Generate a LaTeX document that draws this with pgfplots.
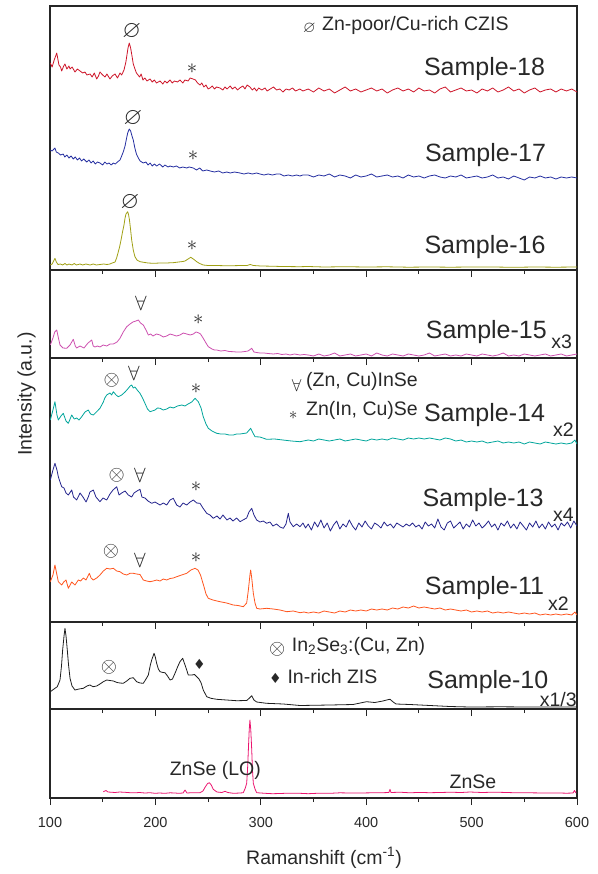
\documentclass[border=0pt]{standalone}
\usepackage{amssymb}
\usepackage{pgfplots}
\pgfplotsset{compat=1.18}
\usepackage{fontspec}
\setmainfont{Liberation Sans}
\newfontfamily\symf{DejaVu Sans}

\definecolor{cA}{RGB}{205,20,40}
\definecolor{cB}{RGB}{35,45,160}
\definecolor{cC}{RGB}{160,160,20}
\definecolor{cD}{RGB}{205,80,175}
\definecolor{cE}{RGB}{0,165,155}
\definecolor{cF}{RGB}{35,35,140}
\definecolor{cG}{RGB}{255,85,30}
\definecolor{cH}{RGB}{30,30,30}
\definecolor{cI}{RGB}{235,20,110}
\definecolor{txt}{RGB}{40,40,40}

\newcommand\lab{\fontsize{19.5}{22}\selectfont}
\newcommand\samp{\fontsize{25}{28}\selectfont}
\newcommand\sym{\fontsize{21}{23}\selectfont}
\newcommand\smsym{\fontsize{16}{18}\selectfont}
% peak symbols
\newcommand\cz{{\fontsize{24}{26}\selectfont$\varnothing$}}
\newcommand\zc{$\forall$}
\newcommand\ox{$\otimes$}
\newcommand\st{{\fontsize{22}{24}\selectfont$\ast$}}

\pgfplotsset{panel/.style={
    scale only axis, width=527pt, anchor=south west,
    xmin=100, xmax=600, ymin=0,
    axis line style={line width=1.1pt, draw=black!85},
    xtick={100,200,...,600}, minor xtick={150,250,...,550},
    xtick pos=bottom, xtick align=outside,
    ytick pos=left, ytick align=inside,
    major tick length=7pt, minor tick length=4pt,
    ytick=\empty, minor y tick num=0,
    xticklabels={},
    every tick/.style={line width=0.9pt, black!85},
    tick label style={font=\fontsize{14.5}{16}\selectfont, text=txt},
    every axis plot/.append style={line width=0.8pt, line join=round},
}}

\begin{document}
\begin{tikzpicture}
\useasboundingbox (0pt,0pt) rectangle (597pt,-874pt);

% panel 1: samples 18, 17, 16
\begin{axis}[panel, at={(50pt,-270pt)}, height=264pt, ymax=264,
    minor ytick={15,30,...,255}]
\addplot[cA] coordinates {(100.3,207) (102,203) (104,210) (106.4,217) (108.5,205) (110,203) (111.1,199) (113,204) (114.2,206) (116,201) (118,204) (119,201) (121,203) (123.7,198) (126,201) (128.5,199) (131,197) (133.2,198) (135,195) (138,196) (140,193) (142,197) (144.3,191) (146,194) (147.4,198) (150,195) (152.2,193) (154,196) (156.9,191) (159,194) (161.7,196) (164,192) (166.4,197) (168,195) (170.2,200) (172,208) (173,215) (174,222) (175.2,227) (176.5,222) (177.8,214) (179,206) (180.6,201) (182,197) (183.5,195) (185,193) (186.5,196) (188.2,190) (190,192) (192,189) (194.9,191) (197,188) (199,190) (201,187) (204.4,189) (207,186) (209,189) (211,187) (213.9,190) (216,187) (218,189) (221,188) (223.3,190) (226,187) (228,190) (231,189) (233,192) (235.7,191) (238,190) (240,187) (242.3,185) (244,187) (246,183) (248,185) (250,181) (251.8,182) (254,184) (256,181) (258,183) (261.3,182) (264,180) (266,183) (268,181) (271,184) (273,181) (275.5,183) (278,180) (280,182) (283,184) (285,181) (287,185) (289.7,183) (292,180) (294,182) (296,179) (298,182) (301,180) (304,182) (306,179) (309,181) (312,183) (315,180) (318,181) (321,178) (324,181) (327,180) (330,182) (333,179) (337,181) (340,179)
(345,181) (350,178) (355,182) (360,179) (365,181) (370,177) (375,180) (380,183) (385,179) (390,181) (395,178) (400,180) (405,182) (410,179) (415,181) (420,177) (425,180) (430,182) (435,179) (440,181) (445,178) (450,182) (455,179) (460,180) (465,177) (470,181) (475,183) (480,178) (485,180) (490,182) (495,179) (500,180) (505,177) (510,181) (515,179) (520,182) (525,178) (530,180) (535,183) (540,179) (545,181) (550,177) (555,180) (560,182) (565,178) (570,180) (575,181) (580,178) (585,181) (590,179) (595,181) (600,178)};
\addplot[cB] coordinates {(100.3,120) (102,119) (104.7,122) (106,118) (107.9,117) (110,115) (112.6,116) (114,113) (116,115) (118,112) (120,114) (122.1,111) (124,113) (126,110) (128,112) (130,109) (132,111) (134.8,108) (137,110) (139,107) (141,109) (143,106) (145,108) (147.4,107) (150,105) (152,108) (154,106) (156,107) (158,105) (160.1,107) (162,106) (164,108) (166.4,110) (168,114) (169.5,118) (171.2,124) (172.5,131) (173.7,137) (175.2,141) (176.5,139) (177.8,134) (179,130) (180.5,122) (182,116) (183.8,112) (185.5,109) (188.5,107) (191,108) (193,105) (195,107) (197,104) (199,106) (201.2,104) (204,106) (207,103) (209,105) (212,103) (214,104) (217,103) (220,104) (223,102) (226,103) (229.7,102) (232,103) (236,102) (239,100) (242,102) (245,99) (248.7,100) (252,99) (256,98) (260,99) (264,97) (267.6,98) (271,97) (275,98) (280.3,97) (284,96) (288,97) (292,96) (296,97) (299.2,96) (303,95) (307,96) (311,95) (315,96) (318.2,96) (322,94) (326,95) (330,94) (334,95) (337.2,94) (340,95)
(345,95) (350,93) (355,95) (360,94) (365,96) (370,93) (375,95) (380,94) (385,92) (390,95) (395,93) (400,94) (405,96) (410,93) (415,94) (420,95) (425,93) (430,94) (435,92) (440,95) (445,93) (450,94) (455,92) (460,94) (465,95) (470,93) (475,92) (480,94) (485,93) (490,95) (495,92) (500,93) (505,94) (510,92) (515,93) (520,95) (525,92) (530,93) (535,91) (540,94) (545,92) (550,90) (555,93) (560,92) (565,94) (570,92) (575,93) (580,91) (585,93) (590,92) (595,93) (600,92)};
\addplot[cC] coordinates {(100.3,5) (102,6) (104.7,11.7) (106,8) (107.6,5.5) (110,6) (112,5) (114.2,6.5) (116,5) (118,6) (120.9,5) (123,6.5) (125,5) (128.5,6) (131,5) (134,6) (138,5) (141,6) (144,5) (147.4,5.5) (151,6) (154,5.5) (156.9,6) (159,7) (161.7,8) (163.2,12) (164.5,17) (166,23) (167.4,30) (168.8,38) (170.2,45) (171.2,52) (172.1,56) (173.7,58.3) (174.6,55) (175.4,50) (176.5,40) (177.5,30) (179,20) (180.6,13.3) (182.5,10) (185.4,8.3) (190,7.5) (193,7) (197.7,6.7) (205,7) (210,7) (216.7,7.3) (222,8) (226,8.5) (228.1,9) (231,11) (233.5,12.7) (236,11) (239.2,8.3) (242,6.5) (245.4,5) (250,4.5) (258,4.5) (265,4.3) (273.6,4.3) (282,4.5) (287,4.5) (290,5.5) (293,4.5) (300,4) (310,3.8) (320,3.5) (337,3.3) (345,3.5) (360,3) (380,3.3) (400,3) (420,3.2) (440,2.8) (460,3) (480,2.8) (500,3) (520,3) (540,2.7) (560,3) (580,2.8) (600,3)};
\end{axis}

% panel 2: sample 15
\begin{axis}[panel, at={(50pt,-358pt)}, height=88pt, ymax=88,
    minor ytick={15,30,...,75}]
\addplot[cD] coordinates {(100.3,13) (102.8,20) (104.5,26) (106.4,28) (108,20) (109.5,13) (112.3,10) (115.8,9.7) (119,13) (122.1,18.7) (124,12) (125.3,10) (128.5,12) (132.3,10) (134.5,13) (136.1,15) (139.6,18) (141,12) (142.7,11) (145,12) (147.4,11) (150.5,13) (153.8,12) (157,14) (160.1,14) (163.6,16) (166.4,19.7) (169.5,26) (172.8,31.3) (175.9,34) (178.7,36) (181.6,37) (183.8,38) (185.9,35) (188.5,33) (191.1,28) (193.3,23) (195.5,24) (197.7,22) (201,24) (204.4,23) (207.5,21) (210.7,22) (214,24) (217,23) (220,22) (223.3,23) (226.5,25) (229.7,24) (233,23) (236,24) (238.5,26) (240.7,25.3) (242.8,24) (245.4,19.7) (248,15) (250.2,11.3) (253.7,9) (256,8) (258.2,8) (262,7) (266,7.5) (270,6.5) (273.9,6.3) (277,6) (281.2,6) (285,6.5) (287.9,7) (291.4,9.7) (293.5,6) (296,5.5) (299.2,5) (303,5) (307,4.5) (311.9,4) (316,4.5) (320,3.5) (324,4) (327.7,3) (332,4) (337.2,3) (341,3.5)
(345,3) (350,2) (355,4) (360,2) (365,3) (370,5) (375,2) (380,3) (385,4) (390,2) (395,3) (400,4) (405,2) (410,5) (415,3) (420,2) (425,4) (430,3) (435,2) (440,4) (445,3) (450,2) (455,3) (460,5) (465,2) (470,3) (475,4) (480,2) (485,3) (490,2) (495,4) (500,3) (505,2) (510,4) (515,3) (520,2) (525,3) (530,5) (535,2) (540,3) (545,2) (550,4) (555,3) (560,2) (565,3) (570,4) (575,2) (580,3) (585,4) (590,2) (595,3) (600,4)};
\end{axis}

% panel 3: samples 14, 13, 11
\begin{axis}[panel, at={(50pt,-622pt)}, height=264pt, ymax=264,
    minor ytick={15,30,...,255}]
\addplot[cE] coordinates {(100.3,202) (102.8,212) (104.7,220.3) (106.6,207) (107.9,202) (110.4,206) (112.6,208.7) (115.2,201) (117.4,198.7) (120.6,207) (123,203) (125.3,204) (127.5,202) (130.1,205.3) (133.2,210) (136.3,212) (138.5,208) (141.1,207) (144,210) (147.4,213.7) (150.6,220) (152,224) (153.8,227) (156.9,229) (158.5,227) (160.1,230.3) (162.7,227) (164.8,225.3) (168,227) (171.2,230) (174.3,233.7) (176,236) (177.5,237) (179,234) (180.6,235) (183.5,231) (185.4,228.7) (187.8,224) (190.1,218.7) (192.5,213) (194.9,210.3) (197,211) (199.6,212) (202,214) (204.4,213.7) (207.5,212) (210.7,213) (214,215) (217,214) (221,216) (225,217) (228,216) (231,218) (234.5,220) (237.6,223.7) (240.7,220.3) (243.3,214) (245.4,205.3) (248,198) (250.2,193.7) (253.7,191) (258.2,188.7) (262,188) (266,188) (270,187) (273.9,187) (277,188) (280.3,188) (286.6,189) (290.4,193.7) (292.6,189) (294.5,185.3) (299.2,185) (305.5,182.7) (313,183) (321,182) (329,181) (337.2,180.3)
(345,182) (350,181) (355,183) (360,182) (365,181) (370,182) (375,183) (380,181) (385,182) (390,183) (395,182) (400,181) (405,183) (410,182) (415,183) (420,182) (425,184) (430,183) (435,182) (440,184) (445,183) (450,184) (455,183) (460,184) (465,183) (470,182) (475,184) (480,183) (485,181) (490,182) (495,180) (500,181) (505,180) (510,181) (515,179) (520,180) (525,181) (530,179) (535,180) (540,179) (545,180) (550,178) (555,180) (560,179) (565,178) (570,180) (575,179) (580,178) (585,179) (590,178) (595,179) (598,182) (600,178)};
\addplot[cF] coordinates {(100.3,142) (102.8,152) (104.7,158.7) (106.6,152) (107.9,145.3) (109.5,140) (111.1,135.3) (113.3,134) (115.2,129) (117.4,127) (120.6,132) (122.3,125) (125.3,122) (128.5,129) (131.3,125) (134.2,120) (136.3,125) (137.9,130) (141.1,132) (143.6,125) (147.4,120.3) (150.3,124) (153.8,122) (156.9,128) (159.8,132) (163.3,135.3) (165.5,127) (168,129) (171.2,131) (174.3,127) (177.5,125) (179.7,129) (182.5,131) (185.4,132.7) (187.2,125) (190.1,124) (193,121) (196.5,118.7) (199.6,120) (204.4,117) (207.5,119) (210.7,117) (213.9,122) (217,123.7) (220.2,117) (223.3,115) (226.2,119) (229.7,117) (232.9,120) (236,122) (239.2,119) (242.3,118.7) (245.1,114) (248.7,108.7) (251.8,107) (254.9,103.7) (258.4,106) (261.3,103) (264.1,107) (267.9,102) (270.8,104) (273.6,101) (277.1,104) (280.3,100.3) (283.1,102) (286.6,104) (288.8,110) (291.4,113.7) (293.5,107) (296.1,102) (299.2,100) (302.4,101) (305.5,98.7) (308.7,100) (311.5,96) (315,98) (318.2,95) (321.4,93.7) (323.9,98) (326.1,108.7) (327.7,100) (330.8,95.3) (334,98) (337.2,95.3) (340,99) (342.5,94)
(345,98) (348,92) (351,100) (354,95) (357,102) (360,94) (363,99) (366,91) (369,97) (372,101) (375,93) (378,98) (381,95) (384,102) (387,96) (390,92) (393,99) (396,95) (399,101) (402,96) (405,93) (408,99) (411,97) (414,94) (417,100) (420,96) (423,98) (426,94) (429,99) (432,97) (435,95) (438,98) (441,96) (444,99) (447,95) (450,97) (453,93) (456,100) (459,96) (462,98) (465,94) (468,103) (471,95) (474,92) (477,99) (480,101) (483,94) (486,97) (489,100) (492,93) (495,98) (498,95) (501,102) (504,96) (507,99) (510,94) (513,97) (516,101) (519,95) (522,98) (525,92) (528,99) (531,96) (534,101) (537,94) (540,98) (543,93) (546,100) (549,96) (552,92) (555,99) (558,95) (561,101) (564,94) (567,98) (570,93) (573,100) (576,95) (579,98) (582,92) (585,99) (588,96) (591,100) (594,94) (597,101) (600,96)};
\addplot[cG] coordinates {(100.3,40.3) (102.8,47) (104.7,57) (106.6,47) (107.9,40.3) (111.1,37) (113,40) (115.2,42) (117.4,33.7) (120.6,40) (123.7,37) (126.9,42) (129,41) (131.6,44) (134.2,42) (137.3,48.7) (139,44) (141.1,42) (144.3,44) (147.4,47) (150.6,51) (153.8,53.7) (156.9,53) (160.1,53.7) (163.3,51) (166.4,50.3) (169.5,48) (172.8,47) (175.9,48.7) (179,48.7) (182.2,48) (185.4,47.5) (188.5,42) (191.7,41) (194.9,40.3) (198,41) (201.2,42) (204.4,41) (207.5,43) (210.7,42) (213.9,43.5) (217,44) (220.2,45.3) (224.9,47) (229.7,48.7) (233.7,52) (237.6,53.7) (240.4,52) (242.8,47) (246.1,35.3) (248,28) (250.2,23.7) (254.6,22) (261.3,20.3) (267.6,19) (273.9,17) (278.4,16.5) (283.4,15.3) (286.6,19) (288.2,32) (289.8,48) (290.4,52) (291.4,44) (292.9,28.7) (294.5,19) (296.1,13.7) (299.2,13) (305.5,13.7) (311.9,13) (318.2,12) (324.6,10.3) (330.8,11) (337.2,9.3) (341,10)
(345,9) (350,10) (355,9) (360,11) (365,10) (370,9) (375,11) (380,10) (385,12) (390,11) (395,12) (400,11) (405,13) (410,12) (415,13) (420,12) (425,14) (430,13) (435,15) (440,14) (445,16) (450,14) (455,15) (460,14) (465,13) (470,14) (475,12) (480,13) (485,12) (490,11) (495,12) (500,10) (505,11) (510,10) (515,11) (520,9) (525,10) (530,9) (535,10) (540,9) (545,8) (550,9) (555,8) (560,9) (565,7) (570,8) (575,7) (580,8) (585,7) (590,8) (595,7) (598,10) (600,7)};
\end{axis}

% panel 4: sample 10
\begin{axis}[panel, at={(50pt,-709pt)}, height=87pt, ymax=87,
    minor ytick={15,30,...,75}]
\addplot[cH] coordinates {(100.3,17.3) (104.7,20.7) (106.9,22.3) (109.5,29) (110.9,43) (112,59) (113.3,73) (114.2,80.7) (115.2,73) (116.4,59) (117.6,44) (119,30.7) (120.9,23) (123.7,19) (127.5,20) (131.6,20.7) (135.1,23) (137.9,24) (140.8,22.3) (144.3,23) (147.4,25) (150.6,27.3) (153.8,29) (156.9,28.5) (160.1,28) (163.6,26.5) (166.4,26) (169.5,25.7) (172.8,28) (175.9,30.7) (179,31.3) (182.2,27.3) (185.4,26) (188.5,25.7) (191.1,30) (193.3,34) (195.2,44) (196.5,49) (198.7,55.7) (199.9,52) (201.2,45.7) (202.8,40) (204.4,37.3) (207.2,36.5) (209.1,36.3) (211.5,33) (213.9,29) (216.2,30) (218.6,35.7) (221,42) (223.3,47.3) (225.9,50.7) (228.1,44) (229.7,39) (231.2,34) (234.7,34) (237.1,34.5) (239.2,32.3) (241.4,30) (243.5,25.7) (245.4,19) (248.7,12.3) (252.7,10.7) (258.2,9.7) (267.6,9) (277.1,8.3) (286.6,8.5) (289.3,11) (291.4,13.3) (293.5,9) (296.1,7) (305.5,5.7) (321.4,5) (337.2,3.5) (365.6,4) (387.5,4.5) (400.3,7.3) (408.2,6.5) (415.8,8) (420.5,9.3) (422.6,9.7) (425.6,7) (428.3,5) (441.6,4.5) (460.6,3.5) (479.5,2.5) (498.5,2) (527,2.2) (555.4,2) (600,2)};
\end{axis}

% panel 5: ZnSe
\begin{axis}[panel, at={(50pt,-798pt)}, height=89pt, ymax=89,
    minor ytick={15,30,...,75},
    xticklabels={100,200,300,400,500,600},
    xticklabel style={yshift=-9pt}]
\addplot[cI] coordinates {(150.6,6.3) (153.1,7.5) (155,6) (158,5.8) (161.7,5.5) (166,6) (171.2,5.7) (176,5.3) (180.6,5.2) (185,5.5) (190.1,5) (195,5.3) (199.6,4.7) (204,5) (209.1,4.7) (214,5.2) (218.6,5) (222,4.7) (226.2,5) (228.1,8) (230,5) (234,5.3) (237.6,5.3) (242.3,5.3) (245.1,7) (247.1,10.7) (249.5,14.5) (251.2,15.3) (253,13) (254.9,8.7) (258.4,6) (263.1,5.5) (266,6.7) (268.8,5.5) (273.9,4.7) (280.3,5) (283.4,5.3) (285.3,10) (286.6,14.7) (287.4,28) (288.2,48) (289,68) (289.7,78) (290.5,68) (291.4,48) (292.1,28) (292.9,14.7) (294.5,9) (296.1,5.3) (300,5) (304,4.7) (311,4.3) (318.2,4.5) (325,4.8) (337.2,4.7) (345,4.3) (355,4.8) (365.6,4.7) (375,5.2) (385,5) (394,5) (405,5.2) (413,5.2) (421.5,5.5) (422.6,8.7) (423.5,5.5) (432,5.8) (441.6,5.2) (450,5.6) (460,5.3) (470,5.5) (480,5.8) (490,5.5) (498.5,6) (510,5.5) (520,5.8) (527,5.7) (540,5.3) (555.4,5.2) (570,5) (583.9,5) (590,4.8) (596.2,5) (597.6,7.5) (599,5)};
\end{axis}

% peak markers and labels
\begin{scope}[every node/.style={text=txt, inner sep=0pt}]
\node at (131.7pt,-31.7pt) {\cz};
\node at (192pt,-69pt) {\st};
\node at (133pt,-119pt) {\cz};
\node at (193pt,-156pt) {\st};
\node at (130pt,-203pt) {\cz};
\node at (192pt,-246pt) {\st};
\node[font=\smsym] at (309.3pt,-28.3pt) {$\varnothing$};
\node[font=\lab, anchor=west] at (322pt,-25pt) {Zn-poor/Cu-rich CZIS};
\node[font=\samp] at (484.5pt,-69pt) {Sample-18};
\node[font=\samp] at (485.5pt,-155pt) {Sample-17};
\node[font=\samp] at (485pt,-246.7pt) {Sample-16};

\node[font=\sym] at (141pt,-303.3pt) {\zc};
\node at (198.3pt,-320pt) {\st};
\node[font=\samp] at (486.3pt,-331.7pt) {Sample-15};
\node[font=\lab] at (561.7pt,-341.7pt) {x3};

\node[font=\sym] at (111.7pt,-380pt) {\ox};
\node[font=\sym] at (134pt,-373.3pt) {\zc};
\node at (196pt,-388.3pt) {\st};
\node[font=\sym] at (116.7pt,-475pt) {\ox};
\node[font=\sym] at (140pt,-475pt) {\zc};
\node at (196pt,-486.7pt) {\st};
\node[font=\sym] at (111pt,-551.7pt) {\ox};
\node[font=\sym] at (140pt,-560pt) {\zc};
\node at (196pt,-557.7pt) {\st};
\node[font=\smsym] at (296.7pt,-385pt) {\zc};
\node[font=\lab, anchor=west] at (306pt,-381.7pt) {(Zn, Cu)InSe};
\node[font=\smsym] at (293.3pt,-415pt) {$\ast$};
\node[font=\lab, anchor=west] at (306pt,-410.7pt) {Zn(In, Cu)Se};
\node[font=\samp] at (484.5pt,-415pt) {Sample-14};
\node[font=\lab] at (563.3pt,-430pt) {x2};
\node[font=\samp] at (483pt,-500pt) {Sample-13};
\node[font=\lab] at (563.3pt,-515pt) {x4};
\node[font=\samp] at (484.5pt,-588.3pt) {Sample-11};
\node[font=\lab] at (558.3pt,-603.3pt) {x2};

\node[font=\sym] at (109pt,-667.7pt) {\ox};
\node[font=\fontsize{14}{16}\selectfont\symf] at (199.3pt,-664.3pt) {♦};
\node[font=\sym] at (277.3pt,-649pt) {\ox};
\node[font=\lab, anchor=west] at (291.7pt,-646.7pt) {In\textsubscript{2}Se\textsubscript{3}:(Cu, Zn)};
\node[font=\fontsize{14}{16}\selectfont\symf] at (275.3pt,-678.3pt) {♦};
\node[font=\lab, anchor=west] at (287.3pt,-676.7pt) {In-rich ZIS};
\node[font=\samp] at (487.8pt,-681.7pt) {Sample-10};
\node[font=\lab] at (558.3pt,-700pt) {x1/3};

\node[font=\lab] at (215.3pt,-770pt) {ZnSe (LO)};
\node[font=\lab] at (473pt,-781.7pt) {ZnSe};

\node[font=\lab] at (324pt,-858pt) {Ramanshift (cm\textsuperscript{-1})};
\node[font=\lab, rotate=90] at (26.5pt,-394pt) {Intensity (a.u.)};
\end{scope}
\end{tikzpicture}
\end{document}
